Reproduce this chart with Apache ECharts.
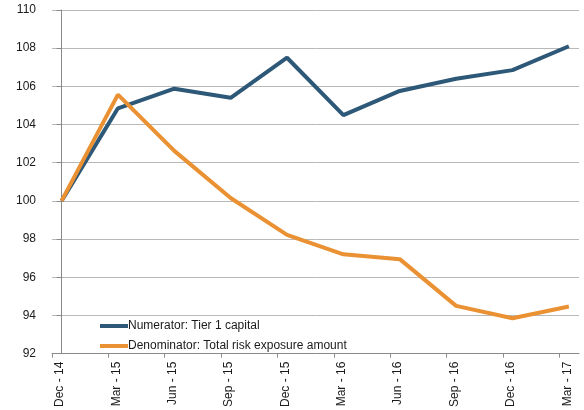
<!DOCTYPE html>
<html>
<head>
<meta charset="utf-8">
<script src="https://cdn.jsdelivr.net/npm/echarts@6/dist/echarts.min.js"></script>
<style>
  html, body { margin: 0; padding: 0; background: #fff; }
  #chart { width: 584px; height: 410px; }
</style>
</head>
<body>
<div id="chart"></div>
<script>
const categories = ['Dec - 14', 'Mar - 15', 'Jun - 15', 'Sep - 15', 'Dec - 15',
  'Mar - 16', 'Jun - 16', 'Sep - 16', 'Dec - 16', 'Mar - 17'];
const numerator = [100, 104.85, 105.88, 105.4, 107.5, 104.49, 105.76, 106.4, 106.85, 108.1];
const denominator = [100, 105.57, 102.62, 100.15, 98.22, 97.2, 96.95, 94.5, 93.85, 94.47];
const yTicks = [92, 94, 96, 98, 100, 102, 104, 106, 108, 110];

const font = '"Liberation Sans", Arial, sans-serif';
const chart = echarts.init(document.getElementById('chart'));

const toPoints = (arr) => arr.map((v, i) => [i, v]);

chart.setOption({
  animation: false,
  grid: { left: 52, right: 5, top: 10, bottom: 56 },
  legend: {
    orient: 'vertical',
    left: 95,
    top: 315,
    itemWidth: 28,
    itemHeight: 4,
    itemGap: 8,
    icon: 'rect',
    textStyle: { fontFamily: font, fontSize: 12, color: '#1a1a1a', padding: [0, 0, 0, -5] },
    data: ['Numerator: Tier 1 capital', 'Denominator: Total risk exposure amount']
  },
  xAxis: {
    type: 'value',
    min: -0.17,
    max: 9.18,
    interval: 1,
    axisLine: { show: true, lineStyle: { color: '#8a8a8a', width: 1 } },
    axisTick: { show: true, length: 4, lineStyle: { color: '#8a8a8a' } },
    splitLine: { show: false },
    axisLabel: {
      rotate: 90,
      margin: 8,
      showMaxLabel: false,
      fontFamily: font,
      fontSize: 12,
      lineHeight: 16,
      color: '#1a1a1a',
      // blank first line nudges the rotated label to the right of its tick
      formatter: (v) => {
        const i = Math.round(v);
        return Math.abs(v - (i - 0.17)) < 0.05 ? ' \n' + categories[i] : '';
      }
    }
  },
  yAxis: {
    type: 'value',
    min: yTicks[0],
    max: yTicks[yTicks.length - 1],
    interval: 2,
    axisLine: { show: true, lineStyle: { color: '#8a8a8a', width: 1 } },
    axisTick: { show: true, length: 5, lineStyle: { color: '#8a8a8a' } },
    splitLine: { lineStyle: { color: '#b8b8b8', width: 1 } },
    axisLabel: { fontFamily: font, fontSize: 12, color: '#1a1a1a', margin: 16 }
  },
  series: [
    {
      name: 'Numerator: Tier 1 capital',
      type: 'line',
      data: toPoints(numerator),
      symbol: 'none',
      lineStyle: { color: '#2d5877', width: 4 },
      itemStyle: { color: '#2d5877' },
      z: 2
    },
    {
      name: 'Denominator: Total risk exposure amount',
      type: 'line',
      data: toPoints(denominator),
      symbol: 'none',
      lineStyle: { color: '#ea9133', width: 4 },
      itemStyle: { color: '#ea9133' },
      z: 3
    }
  ]
});
</script>
</body>
</html>
